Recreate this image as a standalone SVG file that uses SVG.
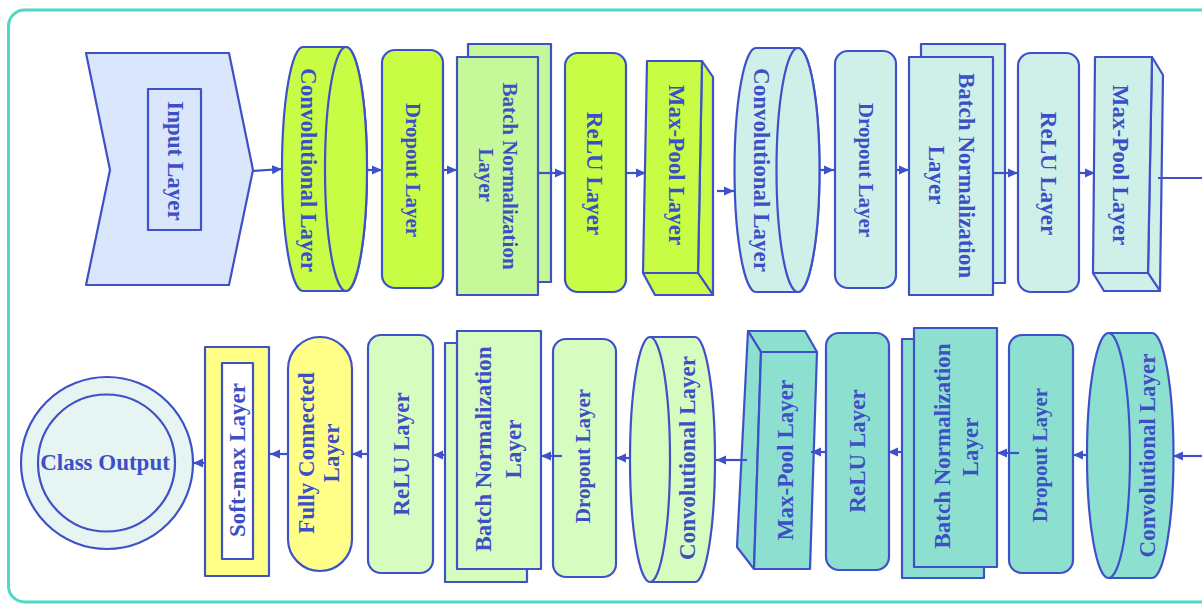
<svg xmlns="http://www.w3.org/2000/svg" width="1202" height="604" viewBox="0 0 1202 604">
<style>
.s{stroke:#3f51c8;stroke-width:2.2;stroke-linejoin:round}
.t{font-family:"Liberation Serif","Times New Roman",serif;font-weight:bold;font-size:23px;fill:#3d4fc4;text-anchor:middle;dominant-baseline:central}
.sm{font-size:21px}
.c{stroke:#3f51c8;stroke-width:2.2;fill:none;marker-end:url(#ah)}
.lime{fill:#c9fc44}.lgreen{fill:#c6f89a}.cyan{fill:#cff0e9}.teal{fill:#8ddfd0}.pale{fill:#d6fcc0}.yel{fill:#ffff88}
</style>
<defs>
<marker id="ah" markerUnits="userSpaceOnUse" markerWidth="11" markerHeight="10" refX="10" refY="5" orient="auto">
<path d="M0,0.5 L10,5 L0,9.5 z" fill="#3f51c8"/>
</marker>
</defs>
<rect x="8.5" y="10" width="1220" height="592" rx="16" fill="#ffffff" stroke="#4fd8c6" stroke-width="3"/>

<g id="input">
<polygon class="s" fill="#dae6fb" points="86,53 229,53 253,170 229,285 86,285 110,170"/>
<rect class="s" fill="#dae6fb" x="148" y="89" width="53" height="141"/>
<text class="t" transform="translate(175,161) rotate(90)">Input Layer</text>
</g>

<g id="conv1">
<path class="s lime" d="M303,47 L346,47 A21,122 0 0 1 346,291 L303,291 A21,122 0 0 1 303,47 Z"/>
<ellipse class="s lime" cx="346" cy="169" rx="21" ry="122"/>
<text class="t" transform="translate(308,170) rotate(90)">Convolutional Layer</text>
</g>
<g id="dropout1">
<rect class="s lime" x="382" y="50" width="61" height="238" rx="13"/>
<text class="t sm" transform="translate(413,170) rotate(90)">Dropout Layer</text>
</g>
<g id="bn1">
<rect class="s lgreen" x="468" y="44" width="83" height="238"/>
<rect class="s lgreen" x="457" y="57" width="81" height="238"/>
<text class="t sm" transform="translate(510,176) rotate(90)">Batch Normalization</text>
<text class="t sm" transform="translate(486,175) rotate(90)">Layer</text>
</g>
<g id="relu1">
<rect class="s lime" x="565" y="53" width="61" height="239" rx="13"/>
<text class="t" transform="translate(594,173.5) rotate(90)">ReLU Layer</text>
</g>
<g id="maxpool1">
<polygon class="s lime" points="702,61 713,77 713,295 698,273"/>
<polygon class="s lime" points="643,273 698,273 713,295 655,295"/>
<polygon class="s lime" points="647,61 702,61 698,273 643,273"/>
<text class="t" transform="translate(676,165) rotate(90)">Max-Pool Layer</text>
</g>

<g id="conv2">
<path class="s cyan" d="M756,48 L798,48 A21.5,122 0 0 1 798,292 L756,292 A21.5,122 0 0 1 756,48 Z"/>
<ellipse class="s cyan" cx="798" cy="170" rx="21.5" ry="122"/>
<text class="t" transform="translate(761,170) rotate(90)">Convolutional Layer</text>
</g>
<g id="dropout2">
<rect class="s cyan" x="835" y="51" width="61" height="237" rx="13"/>
<text class="t sm" transform="translate(866,170) rotate(90)">Dropout Layer</text>
</g>
<g id="bn2">
<rect class="s cyan" x="921" y="44" width="84" height="239"/>
<rect class="s cyan" x="909" y="57" width="84" height="238"/>
<text class="t" transform="translate(966,175.5) rotate(90)">Batch Normalization</text>
<text class="t" transform="translate(936,175) rotate(90)">Layer</text>
</g>
<g id="relu2">
<rect class="s cyan" x="1018" y="53" width="61" height="239" rx="13"/>
<text class="t" transform="translate(1048,173.5) rotate(90)">ReLU Layer</text>
</g>
<g id="maxpool2">
<polygon class="s cyan" points="1152,57 1163,75 1160,291 1148,273"/>
<polygon class="s cyan" points="1093,273 1148,273 1160,291 1104,291"/>
<polygon class="s cyan" points="1095,57 1152,57 1148,273 1093,273"/>
<text class="t" transform="translate(1120,165) rotate(90)">Max-Pool Layer</text>
</g>

<g id="conv3">
<path class="s teal" d="M1108.5,333 L1152,333 A21.5,122.5 0 0 1 1152,578 L1108.5,578 Z"/>
<ellipse class="s teal" cx="1108.5" cy="455.5" rx="21.5" ry="122.5"/>
<text class="t" transform="translate(1147,455.5) rotate(-90)">Convolutional Layer</text>
</g>
<g id="dropout3">
<rect class="s teal" x="1009" y="335" width="64" height="238" rx="13"/>
<text class="t sm" transform="translate(1040,455) rotate(-90)">Dropout Layer</text>
</g>
<g id="bn3">
<rect class="s teal" x="902" y="339" width="82" height="239"/>
<rect class="s teal" x="914" y="328" width="83" height="239"/>
<text class="t" transform="translate(942,446) rotate(-90)">Batch Normalization</text>
<text class="t" transform="translate(970,447) rotate(-90)">Layer</text>
</g>
<g id="relu3">
<rect class="s teal" x="826" y="333" width="63" height="237" rx="13"/>
<text class="t" transform="translate(857,451) rotate(-90)">ReLU Layer</text>
</g>
<g id="maxpool3">
<polygon class="s teal" points="748,331 805,331 817,352 761,352"/>
<polygon class="s teal" points="748,331 761,352 754,569 737,547"/>
<polygon class="s teal" points="761,352 817,352 810,569 754,569"/>
<text class="t" transform="translate(785,460) rotate(-90)">Max-Pool Layer</text>
</g>

<g id="conv4">
<path class="s pale" d="M650,337 L695,337 A20,122.5 0 0 1 695,582 L650,582 Z"/>
<ellipse class="s pale" cx="650" cy="459.5" rx="20" ry="122.5"/>
<text class="t" transform="translate(687,458) rotate(-90)">Convolutional Layer</text>
</g>
<g id="dropout4">
<rect class="s pale" x="553" y="339" width="63" height="238" rx="13"/>
<text class="t sm" transform="translate(583,456) rotate(-90)">Dropout Layer</text>
</g>
<g id="bn4">
<rect class="s pale" x="445" y="343" width="82" height="239"/>
<rect class="s pale" x="457" y="331" width="84" height="238"/>
<text class="t" transform="translate(483,449) rotate(-90)">Batch Normalization</text>
<text class="t" transform="translate(513,449) rotate(-90)">Layer</text>
</g>
<g id="relu4">
<rect class="s pale" x="368" y="335" width="65" height="238" rx="13"/>
<text class="t" transform="translate(401,454) rotate(-90)">ReLU Layer</text>
</g>
<g id="fc">
<rect class="s yel" x="288" y="337" width="64" height="234" rx="32"/>
<text class="t" transform="translate(306,453) rotate(-90)">Fully Connected</text>
<text class="t" transform="translate(331,453) rotate(-90)">Layer</text>
</g>
<g id="softmax">
<rect class="s yel" x="205" y="347" width="64" height="229"/>
<rect class="s" fill="#ffffff" x="222" y="363" width="31" height="196"/>
<text class="t" transform="translate(237,460) rotate(-90)">Soft-max Layer</text>
</g>
<g id="output">
<circle class="s" fill="#e6f5f1" cx="107" cy="463" r="86"/>
<circle class="s" fill="#e6f5f1" cx="106.5" cy="463" r="68.5"/>
<text class="t" x="105" y="470" style="dominant-baseline:auto">Class Output</text>
</g>

<g id="connectors">
<line class="c" x1="253" y1="171" x2="282" y2="169"/>
<line class="c" x1="367" y1="170" x2="382" y2="170"/>
<line class="c" x1="443" y1="170" x2="457" y2="170"/>
<line class="c" x1="538" y1="173" x2="565" y2="173"/>
<line class="c" x1="626" y1="173" x2="646" y2="173"/>
<line class="c" x1="717" y1="191" x2="734" y2="191"/>
<line class="c" x1="820" y1="170" x2="834" y2="170"/>
<line class="c" x1="896" y1="170" x2="909" y2="170"/>
<line class="c" x1="993" y1="173" x2="1018" y2="173"/>
<line class="c" x1="1079" y1="173" x2="1095" y2="173"/>
<line x1="1158" y1="178" x2="1202" y2="178" stroke="#3f51c8" stroke-width="2.2"/>
<line class="c" x1="1202" y1="456" x2="1173" y2="456"/>
<line class="c" x1="1087" y1="455" x2="1073" y2="455"/>
<line class="c" x1="1019" y1="453" x2="997" y2="453"/>
<line class="c" x1="902" y1="452" x2="888" y2="452"/>
<line class="c" x1="826" y1="452" x2="811" y2="452"/>
<line class="c" x1="747" y1="460" x2="716" y2="460"/>
<line class="c" x1="630" y1="458" x2="616" y2="458"/>
<line class="c" x1="562" y1="456" x2="541" y2="456"/>
<line class="c" x1="445" y1="455" x2="433" y2="455"/>
<line class="c" x1="368" y1="454" x2="352" y2="454"/>
<line class="c" x1="288" y1="454" x2="270" y2="454"/>
<line class="c" x1="205" y1="463" x2="193" y2="463"/>
</g>
</svg>
